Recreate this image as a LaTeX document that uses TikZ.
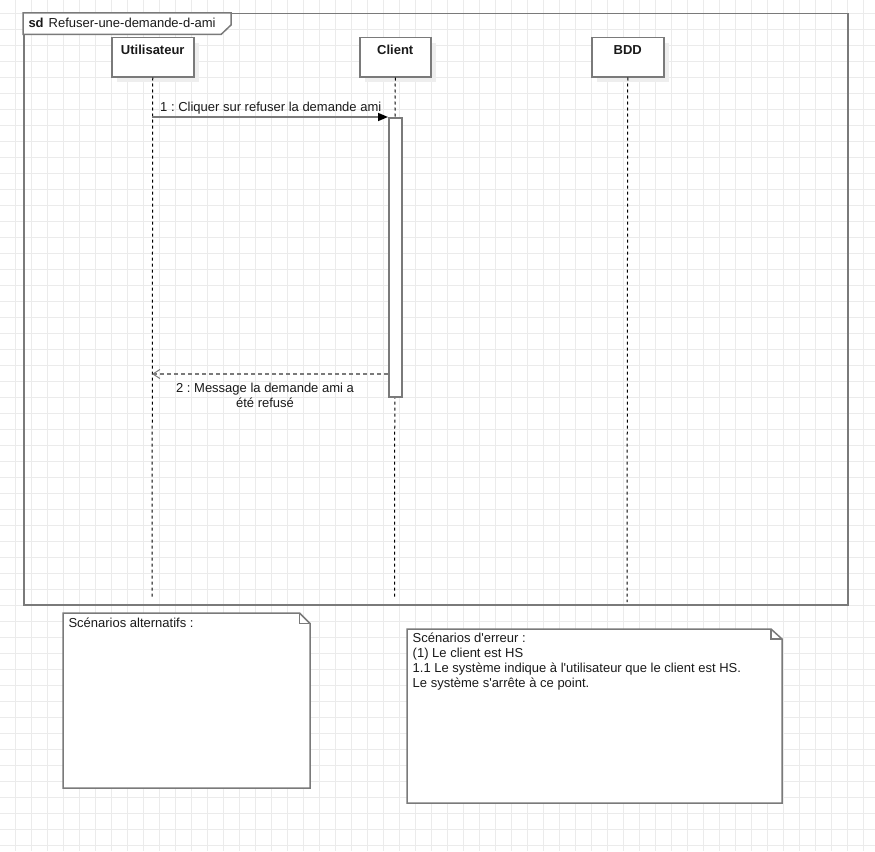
\documentclass[tikz,border=0pt]{standalone}
\usepackage{fontspec}
\setmainfont{Liberation Sans}
\usetikzlibrary{arrows.meta,shadows}
\definecolor{lc}{HTML}{7A7A7A}
\definecolor{gridc}{HTML}{EBEBEB}
\definecolor{shade}{HTML}{EEEEEE}
\definecolor{tc}{HTML}{1A1A1A}
\frenchspacing
\begin{document}
\begin{tikzpicture}[x=1pt,y=-1pt,
  every node/.style={font=\fontsize{13}{15}\selectfont, text=tc},
  ln/.style={draw=lc, line width=1.5pt},
  head/.style={ln, fill=white, anchor=north west, inner sep=0pt, minimum height=39pt,
    drop shadow={shadow xshift=5pt, shadow yshift=-5pt, fill=shade, opacity=1}},
  hlabel/.style={anchor=north, inner sep=0pt, font=\fontsize{13}{15}\selectfont\bfseries},
  life/.style={draw=black, line width=1pt, dash pattern=on 3pt off 3pt},
  notetext/.style={anchor=north west, inner sep=0pt, align=left}
]
\useasboundingbox (0,0) rectangle (875,851);
\fill[white] (0,0) rectangle (875,851);
% grid
\foreach \x in {15.5,31.5,...,875} \draw[gridc, line width=1pt] (\x,0) -- (\x,851);
\foreach \y in {13.5,29.5,...,851} \draw[gridc, line width=1pt] (0,\y) -- (875,\y);

% frame
\node[ln, anchor=north west, inner sep=0pt, minimum width=824pt, minimum height=591pt] (frame) at (23,13) {};
\draw[ln, fill=white] (23,13) -- (231,13) -- (231,25) -- (221,34.5) -- (23,34.5) -- cycle;
\node[anchor=base west, inner sep=0pt] (title) at (28.3,27.3) {\textbf{sd}\hspace{5pt}Refuser-une-demande-d-ami};

% lifeline heads
\node[head, minimum width=82pt] (u) at (111,37) {};
\node[hlabel] (ul) at ([yshift=-8pt]u.north) {Utilisateur};
\node[head, minimum width=71pt] (c) at (359,37) {};
\node[hlabel] (cl) at ([yshift=-8pt]c.north) {Client};
\node[head, minimum width=72pt] (b) at (591,37) {};
\node[hlabel] (bl) at ([yshift=-8pt]b.north) {BDD};

% lifelines
\coordinate (uend) at (152,597);
\coordinate (cend) at (394.5,597);
\coordinate (bend) at (627,602);
\draw[life] (u.south) -- (uend);
\draw[life] (c.south) -- (cend);
\draw[life] (b.south) -- (bend);

% activation bar
\node[ln, fill=white, anchor=north west, inner sep=0pt, minimum width=13pt, minimum height=279pt] (act) at (388,117) {};

% message 1
\coordinate (m1s) at (152,117);
\draw[ln, -{Triangle[length=10pt,width=8pt,color=black]}] (m1s) -- (m1s -| act.west);
\node[anchor=base west, inner sep=0pt] (m1l) at (160,111.5) {1 : Cliquer sur refuser la demande ami};

% message 2 (return)
\coordinate (m2e) at (152,374);
\draw[ln, dash pattern=on 4pt off 3pt, -{Straight Barb[length=7pt,width=9pt,line width=1pt]}] (m2e -| act.west) -- (m2e);
\node[anchor=north, inner sep=0pt, align=center] (m2l) at (265,383) {2 : Message la demande ami a\\été refusé};

% note 1
\draw[ln, fill=white] (63,613) -- (299.5,613) -- (310,623.5) -- (310,788) -- (63,788) -- cycle;
\draw[ln] (299.5,613) -- (299.5,623.5) -- (310,623.5);
\node[notetext] (n1) at (68.3,618) {Scénarios alternatifs :};

% note 2
\draw[ln, fill=white] (407,629) -- (771,629) -- (782,639) -- (782,803) -- (407,803) -- cycle;
\draw[ln] (771,629) -- (771,639) -- (782,639);
\node[notetext] (n2) at (412.5,632.5) {Scénarios d\textquotesingle erreur :\\(1) Le client est HS\\1.1 Le système indique à l\textquotesingle utilisateur que le client est HS.\\Le système s\textquotesingle arrête à ce point.};
\end{tikzpicture}
\end{document}
